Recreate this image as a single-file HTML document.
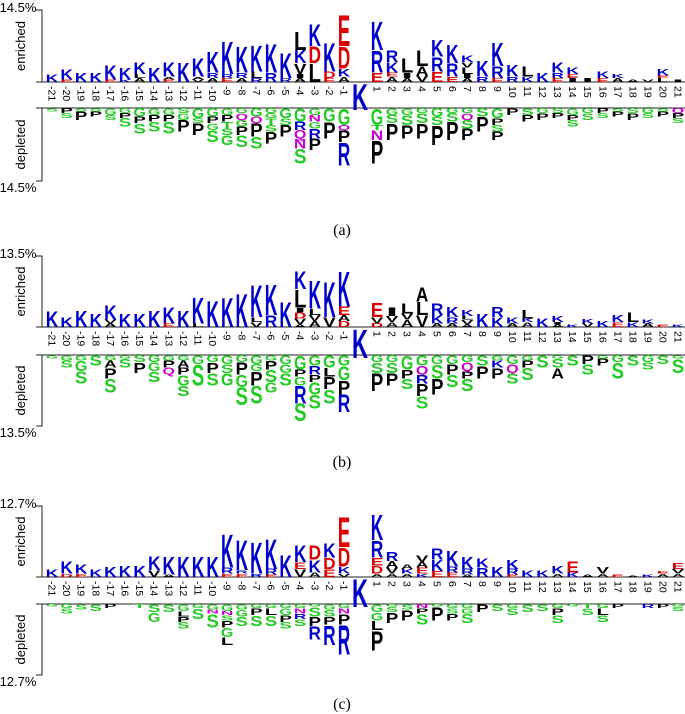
<!DOCTYPE html>
<html><head><meta charset="utf-8"><style>
html,body{margin:0;padding:0;background:#fff;}
svg{display:block;}
</style></head><body>
<svg id="fig" width="685" height="714" viewBox="0 0 685 714" xmlns="http://www.w3.org/2000/svg"></svg>
<script>
// Values are in panel-specific units (unitsEnr / unitsDep percent); enriched stacks bottom->top, depleted stacks baseline->down.
const positions = [-21,-20,-19,-18,-17,-16,-15,-14,-13,-12,-11,-10,-9,-8,-7,-6,-5,-4,-3,-2,-1,1,2,3,4,5,6,7,8,9,10,11,12,13,14,15,16,17,18,19,20,21];
const axisMax = [14.5, 13.5, 12.7];
const unitsEnr = [0.27, 0.232, 0.207];
const unitsDep = [0.34, 0.34, 0.245];
const captions = ["(a)", "(b)", "(c)"];

const enrA = [
[["K",6]],[["E",2],["K",8]],[["K",7]],[["K",7]],[["E",2],["K",11]],[["K",2],["K",9]],[["A",3],["L",3],["K",9]],[["K",11]],[["E",2],["A",2],["K",11]],[["K",15]],
[["V",2],["A",2],["K",14]],[["A",3],["R",4],["K",16]],[["E",3],["R",3],["K",25]],[["A",3],["R",4],["K",20]],[["R",3],["L",5],["K",20]],[["R",7],["K",22]],[["R",3],["K",19]],[["A",3],["I",3],["V",8],["K",10],["L",14]],[["L",14],["D",13],["K",17]],[["E",3],["D",5],["K",22]],
[["A",4],["K",6],["D",17],["E",24]],
[["E",7],["R",17],["K",22]],[["A",4],["E",3],["K",8],["R",9]],[["A",3],["I",4],["L",11]],[["V",5],["A",7],["L",12]],[["E",8],["R",11],["K",13]],[["E",4],["R",10],["K",14]],[["A",3],["I",3],["L",5],["V",4],["K",5]],[["R",4],["K",12]],[["E",3],["R",9],["K",18]],[["R",4],["K",9]],
[["K",4],["L",8]],[["K",7]],[["E",3],["R",4],["K",8]],[["I",3],["E",3],["K",5]],[["I",3]],[["E",3],["K",5]],[["A",3],["K",3]],[["A",2]],[["V",2]],[["L",3],["E",2],["K",5]],[["I",2]]
];
const depA = [
[["S",2]],[["P",3],["S",3]],[["S",2],["P",5]],[["S",2],["P",3]],[["G",4],["S",3]],[["G",3],["P",3],["S",5]],[["G",5],["P",4],["S",6]],[["G",4],["P",4],["S",6]],[["G",4],["P",4],["S",7]],[["S",3],["G",4],["P",7]],
[["G",6],["S",3],["P",7]],[["G",5],["P",4],["G",4],["S",7]],[["G",4],["P",4],["T",4],["S",4],["G",6]],[["G",3],["Q",4],["G",4],["P",5],["S",7]],[["G",5],["Q",4],["P",8],["S",7]],[["G",3],["G",3],["T",4],["S",4],["P",7]],[["G",6],["S",4],["P",7]],[["G",8],["R",5],["Q",5],["N",6],["S",9]],[["G",4],["N",4],["G",4],["R",6],["P",7]],[["G",8],["P",10]],
[["G",10],["Q",3],["P",7],["R",14]],
[["G",10],["T",3],["N",6],["P",14]],[["G",4],["S",5],["P",10]],[["G",4],["S",6],["P",8]],[["G",3],["S",6],["P",9]],[["G",5],["S",5],["P",12]],[["G",3],["S",5],["P",11]],[["G",3],["Q",4],["S",5],["P",7]],[["S",5],["P",9]],[["G",6],["P",4],["S",4],["P",5]],[["P",4]],
[["S",4],["P",4]],[["G",3],["P",4]],[["S",3],["P",3]],[["G",4],["P",3],["S",4]],[["G",3],["S",4]],[["P",3],["S",3]],[["S",2],["P",3]],[["S",3],["P",4]],[["G",3],["S",3]],[["S",2],["P",3]],[["Q",3],["P",3],["S",3]]
];

const enrB = [
[["K",13]],[["K",8]],[["K",14]],[["K",11]],[["A",3],["V",3],["K",12]],[["K",11]],[["K",11]],[["K",14]],[["E",3],["K",14]],[["K",14]],
[["L",3],["K",22]],[["K",22]],[["K",25]],[["K",28]],[["V",4],["L",4],["K",27]],[["R",10],["K",26]],[["K",21]],[["A",2],["V",5],["D",5],["I",4],["L",15],["K",15]],[["A",5],["V",5],["L",5],["K",24]],[["V",8],["K",30]],
[["D",5],["A",5],["E",7],["K",30]],
[["D",3],["V",5],["E",12]],[["A",4],["V",5],["I",7]],[["A",6],["V",5],["L",9]],[["V",10],["L",11],["A",12]],[["A",3],["K",7],["R",10]],[["A",3],["R",5],["K",9]],[["A",2],["V",4],["L",3],["K",5]],[["K",11]],[["K",8],["R",9]],[["A",3],["K",5]],
[["A",4],["K",3],["L",7]],[["K",7]],[["A",2],["I",2],["K",5]],[["K",2]],[["V",3],["K",4]],[["K",5]],[["E",4],["K",6]],[["K",4],["L",8]],[["A",3],["K",3]],[["E",2]],[["K",2]]
];
const depB = [
[["G",2]],[["G",3],["S",4]],[["G",3],["G",6],["S",7]],[["S",6]],[["G",3],["A",4],["P",6],["S",8]],[["G",2],["S",5]],[["S",4],["P",6]],[["G",4],["G",5],["S",6]],[["G",3],["P",4],["Q",4]],[["G",3],["A",4],["P",4],["G",6],["S",6]],
[["G",5],["S",12]],[["G",4],["P",6],["S",7]],[["G",5],["S",5],["G",7]],[["G",4],["P",7],["G",7],["S",10]],[["G",5],["G",4],["P",8],["S",10]],[["G",3],["P",5],["S",7],["G",6]],[["G",5],["G",5],["S",7]],[["G",8],["P",4],["G",5],["R",10],["S",10]],[["G",6],["R",5],["P",4],["G",7],["S",8]],[["G",7],["L",5],["P",7],["S",8]],
[["G",6],["G",8],["P",8],["R",10]],
[["G",4],["S",6],["P",10]],[["G",4],["S",6],["P",7]],[["G",8],["P",5],["S",6]],[["G",6],["Q",5],["R",5],["P",7],["S",7]],[["G",5],["S",8],["P",9]],[["G",5],["P",6],["S",7]],[["G",4],["Q",5],["P",4],["S",7]],[["S",6],["P",7]],[["G",3],["K",4],["P",6]],[["G",5],["Q",5],["S",6]],
[["G",3],["P",4],["S",7]],[["S",7]],[["G",2],["S",5],["A",6]],[["S",6]],[["P",5],["S",6]],[["G",2],["P",4]],[["G",4],["S",9]],[["S",6]],[["G",4],["S",4]],[["S",5]],[["G",2],["S",8]]
];

const enrC = [
[["K",7]],[["D",3],["K",11]],[["E",3],["K",8]],[["K",7]],[["K",9]],[["K",10]],[["K",10]],[["V",6],["K",12]],[["A",2],["K",16]],[["K",18]],
[["K",18]],[["K",18]],[["E",3],["R",5],["K",30]],[["E",3],["R",3],["K",27]],[["R",3],["K",28]],[["E",2],["R",5],["K",27]],[["K",20]],[["V",7],["E",6],["K",15]],[["A",4],["K",11],["D",13]],[["E",7],["D",10],["K",13]],
[["V",3],["K",6],["D",17],["E",27]],
[["A",3],["D",7],["E",7],["R",15],["K",23]],[["A",3],["V",5],["A",6],["R",8]],[["A",3],["K",4],["A",4]],[["K",3],["E",5],["A",5],["V",6]],[["E",5],["K",10],["R",10]],[["E",4],["R",5],["K",14]],[["A",2],["R",5],["K",11]],[["R",8],["K",8]],[["K",9]],[["E",2],["R",5],["K",8]],
[["K",6]],[["K",6]],[["A",3],["K",7]],[["K",4],["E",10]],[["A",2]],[["A",3],["V",6]],[["E",2]],[["A",1]],[["K",2]],[["A",3],["E",2]],[["A",3],["V",4],["E",5]]
];
const depC = [
[["G",2]],[["G",3],["S",4]],[["S",4]],[["S",5]],[["P",3]],[],[["T",3]],[["S",6],["G",7]],[["S",6]],[["G",5],["L",4],["P",4],["S",5]],
[["G",3],["S",8]],[["G",4],["N",3],["S",10]],[["G",5],["N",3],["S",4],["P",5],["G",7],["L",6]],[["G",4],["G",5],["S",7]],[["G",3],["P",5],["S",8]],[["G",3],["L",5],["S",8]],[["G",3],["G",5],["P",5],["S",5]],[["G",3],["N",4],["R",4],["S",5]],[["G",2],["S",7],["P",7],["R",10]],[["G",4],["S",5],["P",6],["R",15]],
[["G",3],["N",4],["P",8],["R",22]],
[["G",6],["G",6],["L",7],["P",15]],[["G",2],["S",4],["P",8]],[["S",4],["P",8]],[["N",3],["P",4],["S",8]],[["G",2],["P",10]],[["G",3],["S",4],["P",5]],[["G",3],["G",4],["S",7]],[["P",6]],[["S",5]],[["G",3],["S",5]],
[["S",6]],[["S",5]],[["G",3],["P",5],["S",6]],[["G",2]],[["T",3],["S",5]],[["G",3],["L",5],["S",5]],[["P",3]],[],[["R",3]],[["P",3]],[["G",2],["S",3]]
];

const enriched = [enrA, enrB, enrC];
const depleted = [depA, depB, depC];

// layout (not data)
const layout = [
  {top:10, base:82, dbase:108, bottom:181, kBottom:110, cap:235},
  {top:256, base:327, dbase:355, bottom:426, kBottom:358, cap:467},
  {top:506, base:577, dbase:604, bottom:675, kBottom:607, cap:709}
];
const NS = "http://www.w3.org/2000/svg";
const svg = document.getElementById('fig');
function xPos(p){ return p < 0 ? 344 + (p+1)*14.6 : 377 + (p-1)*15.05; }
function color(l){
  if ("KRH".includes(l)) return "#0000cc";
  if ("DE".includes(l)) return "#dd0000";
  if ("SGTYC".includes(l)) return "#22cc22";
  if ("NQ".includes(l)) return "#cc00cc";
  return "#000000";
}
function mk(tag, attrs, parent){
  const e = document.createElementNS(NS, tag);
  for (const k in attrs) e.setAttribute(k, attrs[k]);
  (parent||svg).appendChild(e);
  return e;
}
function letter(g, l, cx, bottomY, h, w){
  if (h <= 0.3) return;
  const t = mk('text', {x:(cx - w/2).toFixed(2), y:bottomY.toFixed(2), 'font-family':'Liberation Sans, sans-serif', 'font-weight':'bold',
    'font-size':(h/0.729).toFixed(2), textLength:w, lengthAdjust:'spacingAndGlyphs', fill:color(l)}, g);
  
  
  t.textContent = l;
}
layout.forEach((L, pi) => {
  const g = mk('g', {});
  
  
  const axisPx = L.base - L.top;
  const scE = unitsEnr[pi] / axisMax[pi] * axisPx;
  const scD = unitsDep[pi] / axisMax[pi] * axisPx;
  mk('path', {d:`M36 ${L.top}H42V${L.base}M36 ${L.base}H685M36 ${L.dbase}H685M42 ${L.dbase}V${L.bottom}H36`, stroke:'#222', 'stroke-width':1, fill:'none'}, g);
  const lab = (txt, y, name) => { const t = mk('text', {x:18, y:y, 'font-family':'Liberation Sans, sans-serif', 'font-size':13, 'text-anchor':'middle', fill:'#000'}, g);   t.textContent = txt; };
  lab(axisMax[pi] + '%', L.top + 2, 'y-max-label-top');
  lab(axisMax[pi] + '%', L.bottom + 11, 'y-max-label-bottom');
  const rot = (txt, cy, name) => { const t = mk('text', {x:0, y:0, transform:`translate(25 ${cy}) rotate(-90)`, 'font-family':'Liberation Sans, sans-serif', 'font-size':13, 'text-anchor':'middle', fill:'#000'}, g);   t.textContent = txt; };
  rot('enriched', (L.top + L.base)/2, 'enriched-axis-title');
  rot('depleted', (L.dbase + L.bottom)/2, 'depleted-axis-title');
  const cap = mk('text', {x:342, y:L.cap, 'font-family':'Liberation Serif, serif', 'font-size':16, 'text-anchor':'middle', fill:'#000'}, g);
  
  
  cap.textContent = captions[pi];
  positions.forEach((p, i) => {
    const cx = xPos(p);
    const tl = mk('text', {x:0, y:0, transform:`translate(${(cx-3.5).toFixed(1)} ${L.base+4}) rotate(90)`, 'font-family':'Liberation Sans, sans-serif', 'font-size':10.5, fill:'#000'}, g);
    
    
    tl.textContent = String(p);
    let y = L.base;
    enriched[pi][i].forEach(([l, v]) => { const h = v*scE; letter(g, l, cx, y, h, 12.5); y -= h; });
    y = L.dbase;
    depleted[pi][i].forEach(([l, v]) => { const h = v*scD; letter(g, l, cx, y + h, h, 12.5); y += h; });
  });
  const kc = mk('text', {x:352, y:L.kBottom, 'font-family':'Liberation Sans, sans-serif', 'font-weight':'bold', 'font-size':((L.kBottom-L.base-1)/0.729).toFixed(1), textLength:16, lengthAdjust:'spacingAndGlyphs', fill:'#0000cc'}, g);
  
  
  kc.textContent = 'K';
});
</script>
</body></html>
